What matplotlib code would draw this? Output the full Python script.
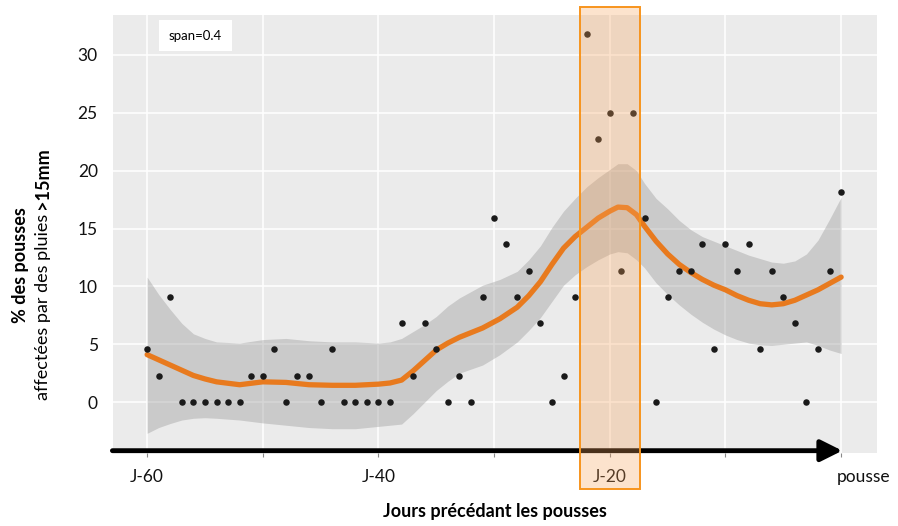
import numpy as np
import matplotlib
matplotlib.use("Agg")
import matplotlib.pyplot as plt
from matplotlib.patches import Rectangle
from matplotlib import transforms

plt.rcParams['font.family'] = ['Lato', 'DejaVu Sans']

# Days before the flush (0 = pousse) and % of flushes hit by rain > 15mm
days = np.arange(-60, 1)
pct = np.array([
    4.55, 2.27, 9.09, 0, 0, 0, 0, 0, 0, 2.27,      # -60 .. -51
    2.27, 4.55, 0, 2.27, 2.27, 0, 4.55, 0, 0, 0,     # -50 .. -41
    0, 0, 6.82, 2.27, 6.82, 4.55, 0, 2.27, 0, 9.09,  # -40 .. -31
    15.91, 13.64, 9.09, 11.36, 6.82, 0, 2.27, 9.09, 31.82, 22.73,  # -30 .. -21
    25.0, 11.36, 25.0, 15.91, 0, 9.09, 11.36, 11.36, 13.64, 4.55,  # -20 .. -11
    13.64, 11.36, 13.64, 4.55, 11.36, 9.09, 6.82, 0, 4.55, 11.36,  # -10 .. -1
    18.18,                                           # 0
])

# loess curve (span=0.4) and its confidence band
smooth_x = [-60, -59, -58, -57, -56, -55, -54, -52, -50, -48, -46, -44, -42, -40, -39,
            -38, -37, -36, -35, -34, -33, -31, -29.5, -28, -27, -26, -25, -24, -23, -22,
            -21, -20, -19.3, -18.5, -17.7, -17, -16, -15, -14, -13, -12, -11, -10, -9,
            -8, -7, -6, -5, -4, -3, -2, -1, 0]
smooth_fit = [4.1, 3.65, 3.2, 2.75, 2.3, 2.0, 1.75, 1.5, 1.75, 1.7, 1.5, 1.45, 1.45, 1.55, 1.65,
              1.9, 2.7, 3.6, 4.5, 5.1, 5.6, 6.4, 7.2, 8.2, 9.2, 10.4, 11.9, 13.3, 14.3, 15.1,
              15.9, 16.5, 16.85, 16.8, 16.2, 15.2, 13.9, 12.8, 11.9, 11.2, 10.6, 10.1, 9.7, 9.2,
              8.8, 8.5, 8.4, 8.5, 8.8, 9.25, 9.7, 10.25, 10.8]
smooth_hi = [10.8, 9.3, 8.0, 6.8, 5.9, 5.5, 5.2, 5.1, 5.4, 5.5, 5.3, 5.2, 5.2, 5.1, 5.2,
             5.5, 6.1, 6.7, 7.4, 8.3, 9.0, 10.1, 10.6, 11.3, 12.3, 13.5, 15.1, 16.5, 17.6, 18.6,
             19.4, 20.1, 20.6, 20.6, 20.0, 18.9, 17.6, 16.7, 15.7, 14.9, 14.3, 13.9, 13.5, 13.1,
             12.7, 12.4, 12.1, 12.0, 12.2, 12.8, 14.0, 15.8, 17.7]
smooth_lo = [-2.7, -2.2, -1.85, -1.55, -1.4, -1.35, -1.4, -1.55, -1.8, -2.0, -2.2, -2.3, -2.3, -2.1, -2.0,
             -1.9, -1.0, 0.0, 1.0, 1.8, 2.5, 3.2, 4.1, 5.2, 6.2, 7.3, 8.7, 10.1, 11.0, 11.7,
             12.3, 12.8, 13.0, 12.9, 12.3, 11.6, 10.3, 9.3, 8.4, 7.6, 6.9, 6.3, 5.8, 5.4,
             5.1, 4.95, 4.9, 5.0, 5.1, 5.2, 4.9, 4.5, 4.2]

tick_pos = [-60, -40, -20, 0]
tick_labels = ["J-60", "J-40", "J-20", "pousse"]
highlight = (-22.6, -17.4)

fig = plt.figure(figsize=(8.98, 5.26), dpi=100)
W, H = 898, 526
ax = fig.add_axes([113 / W, 1 - 453 / H, (877 - 113) / W, (453 - 15) / H])
ax.set_facecolor('#ebebeb')
for s in ax.spines.values():
    s.set_visible(False)

ax.set_xlim(-62.95, 3.1)
ax.set_ylim(-4.4, 33.45)
ax.set_xticks(np.arange(-60, 1, 10))
ax.set_xticklabels([])
ax.set_yticks(np.arange(0, 31, 5))
ax.grid(True, color='white', linewidth=1.1)
ax.set_axisbelow(True)
ax.tick_params(axis='x', length=3, color='#888888')
ax.tick_params(axis='y', length=0, pad=11, labelsize=12.5, labelcolor='#111111')

ax.fill_between(smooth_x, smooth_lo, smooth_hi, color='#999999', alpha=0.4, linewidth=0)
ax.plot(smooth_x, smooth_fit, color='#e87a1e', linewidth=3.8,
        solid_capstyle='round', solid_joinstyle='round')
ax.scatter(days, pct, s=22, color='#1a1a1a', zorder=4, linewidths=0)

# time arrow along the bottom
ax.annotate('', xy=(0.1, -4.2), xytext=(-63, -4.2),
            arrowprops=dict(arrowstyle='-|>,head_length=1.3,head_width=0.65',
                            color='black', linewidth=3.5, shrinkA=0, shrinkB=0),
            annotation_clip=False, zorder=5)

for p, lab in zip(tick_pos, tick_labels):
    ax.text(p + (1.9 if lab == "pousse" else 0), -6.5, lab, ha='center', va='center',
            fontsize=12.5, color='#111111', clip_on=False)

# highlighted window around J-20
trans = transforms.blended_transform_factory(ax.transData, fig.transFigure)
rect = Rectangle((highlight[0], 1 - 489 / H), highlight[1] - highlight[0], (489 - 7) / H,
                 transform=trans, facecolor='#f8a35a', alpha=0.3, edgecolor='none',
                 clip_on=False, zorder=6)
fig.add_artist(rect)
rect_edge = Rectangle((highlight[0], 1 - 489 / H), highlight[1] - highlight[0], (489 - 7) / H,
                      transform=trans, facecolor='none', edgecolor='#f7941d',
                      linewidth=1.4, clip_on=False, zorder=7)
fig.add_artist(rect_edge)

ax.text(0.0733, 0.953, "span=0.4", transform=ax.transAxes, fontsize=9.5, va='center',
        bbox=dict(boxstyle='square,pad=0.75', facecolor='white', edgecolor='none'))

# y label: bold first line, second line with a bold tail
fig.text(21 / W, 1 - 265 / H, "% des pousses", rotation=90, ha='center', va='center',
         fontsize=13, fontweight='bold')
renderer = fig.canvas.get_renderer()
t1 = fig.text(43 / W, 0, "affectées par des pluies ", rotation=90, ha='center', va='bottom',
              fontsize=13)
t2 = fig.text(43 / W, 0, ">15mm", rotation=90, ha='center', va='bottom',
              fontsize=13, fontweight='bold')
h1 = t1.get_window_extent(renderer).height
h2 = t2.get_window_extent(renderer).height
y0 = (H - 273.5) - (h1 + h2) / 2
t1.set_y(y0 / H)
t2.set_y((y0 + h1) / H)

fig.text(495 / W, 1 - 512 / H, "Jours précédant les pousses", ha='center', va='center',
         fontsize=13, fontweight='bold')

fig.savefig("out.png", dpi=100)
